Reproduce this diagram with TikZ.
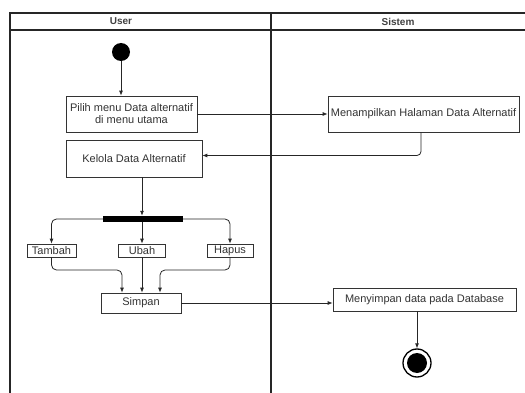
\documentclass[tikz,border=0pt]{standalone}
\usepackage{fontspec}
\setmainfont{Liberation Sans}
\usetikzlibrary{arrows.meta}
\begin{document}
\begin{tikzpicture}[x=1pt,y=-1pt,
  lane/.style={draw=black!85, line width=1.2pt},
  act/.style={draw=black!80, line width=0.7pt, fill=white, inner sep=1pt, align=center,
    font=\fontsize{11}{12}\selectfont, text=black!80},
  arr/.style={draw=black!85, line width=0.8pt, -{Latex[length=5pt,width=4pt]}},
  ln/.style={draw=black!85, line width=0.8pt},
  hdr/.style={font=\fontsize{10}{12}\selectfont\bfseries, text=black!75}]
\useasboundingbox (0,0) rectangle (525,393);
% swimlanes
\draw[lane] (10,393) -- (10,13) -- (525,13);
\draw[lane] (10,30) -- (525,30);
\draw[lane] (271,13) -- (271,393);
\node[hdr] (huser) at (121,21.5) {User};
\node[hdr] (hsis) at (398,21.5) {Sistem};
% nodes
\node[circle, fill=black, minimum size=18pt, inner sep=0pt] (start) at (121,52) {};
\node[act, minimum width=131pt, minimum height=36pt] (pilih) at (131.5,114) {Pilih menu Data alternatif\\di menu utama};
\node[act, minimum width=136pt, minimum height=37pt] (kel) at (134,158.5) {Kelola Data Alternatif};
\node[act, minimum width=191pt, minimum height=36pt] (men) at (423.5,114) {Menampilkan Halaman Data Alternatif};
\node[fill=black, minimum width=80pt, minimum height=6pt, inner sep=0pt] (bar) at (143,219) {};
\node[act, minimum width=49pt, minimum height=13pt] (tam) at (51.5,250.5) {Tambah};
\node[act, minimum width=47pt, minimum height=13pt] (ubah) at (142,250.5) {Ubah};
\node[act, minimum width=46pt, minimum height=13pt] (hap) at (230,250.5) {Hapus};
\node[act, minimum width=80pt, minimum height=20pt] (sim) at (141,303) {Simpan};
\node[act, minimum width=183pt, minimum height=23pt] (mys) at (424.5,299.5) {Menyimpan data pada Database};
\node[circle, draw=black, line width=1.3pt, minimum size=28pt, inner sep=0pt] (end) at (417,363) {};
\node[circle, fill=black, minimum size=20pt, inner sep=0pt] (endin) at (417,363) {};
\coordinate (j1) at (122,270);
\coordinate (j2) at (160,270);
% connectors
\draw[arr] (start) -- (start |- pilih.north);
\draw[arr] (pilih.east) -- (pilih.east -| men.west);
\draw[arr, rounded corners=4pt] ([xshift=-2.5pt]men.south) |- ([yshift=3pt]kel.east);
\draw[arr] (kel.south -| ubah.north) -- (bar.north -| ubah.north);
\draw[arr, rounded corners=5pt] (bar.west) -| (tam.north);
\draw[arr] (bar.south -| ubah.north) -- (ubah.north);
\draw[arr, rounded corners=5pt] (bar.east) -| (hap.north);
\draw[arr, rounded corners=5pt] (tam.south) |- (j1) -- (j1 |- sim.north);
\draw[arr] (ubah.south) -- (ubah.south |- sim.north);
\draw[arr, rounded corners=5pt] (hap.south) |- (j2) -- (j2 |- sim.north);
\draw[arr] (sim.east) -- (sim.east -| mys.west);
\draw[arr] (end |- mys.south) -- (end.north);
\end{tikzpicture}
\end{document}
